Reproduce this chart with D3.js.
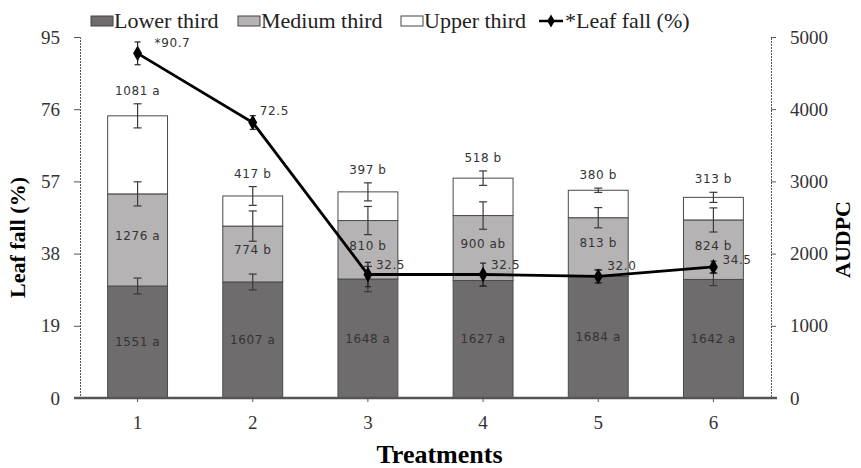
<!DOCTYPE html>
<html>
<head>
<meta charset="utf-8">
<script src="https://cdn.jsdelivr.net/npm/d3@7"></script>
<style>
  body { margin: 0; background: #fff; }
  #chart text { font-family: "Liberation Serif", "Times New Roman", serif; }
  .axis path, .axis line { stroke: #555; }
  .axis text { font-family: "Liberation Serif", "Times New Roman", serif; font-size: 19px; fill: #333; }
  #chart text.val { font-family: "DejaVu Sans", sans-serif; font-size: 12px; fill: #333; letter-spacing: 0.6px; }
</style>
</head>
<body>
<svg id="chart"></svg>
<script>
const treatments = ['1', '2', '3', '4', '5', '6'];

// AUDPC per leaf layer
const lowerThird = [1551, 1607, 1648, 1627, 1684, 1642];
const mediumThird = [1276, 774, 810, 900, 813, 824];
const upperThird = [1081, 417, 397, 518, 380, 313];
const lowerErr = [110, 110, 175, 80, 90, 85];
const mediumErr = [167, 210, 195, 190, 140, 167];
const upperErr = [167, 130, 125, 100, 30, 70];

const lowerLetters = ['a', 'a', 'a', 'a', 'a', 'a'];
const mediumLetters = ['a', 'b', 'b', 'ab', 'b', 'b'];
const upperLetters = ['a', 'b', 'b', 'b', 'b', 'b'];

// leaf fall (%)
const leafFall = [90.7, 72.5, 32.5, 32.5, 32.0, 34.5];
const leafFallErr = [3.0, 1.8, 3.2, 3.0, 1.7, 1.5];
const leafFallLabels = ['*90.7', '72.5', '32.5', '32.5', '32.0', '34.5'];

const leftTicks = [0, 19, 38, 57, 76, 95];
const rightTicks = [0, 1000, 2000, 3000, 4000, 5000];

const width = 861;
const height = 468;
const margin = { top: 37, right: 90, bottom: 70, left: 80 };

const svg = d3.select('#chart')
    .attr('width', width)
    .attr('height', height);

const x = d3.scaleBand()
    .domain(treatments)
    .range([margin.left, width - margin.right])
    .paddingInner(0.48)
    .paddingOuter(0.24);

const yLeft = d3.scaleLinear()
    .domain([0, 95])
    .range([height - margin.bottom, margin.top]);

const yRight = d3.scaleLinear()
    .domain([0, 5000])
    .range([height - margin.bottom, margin.top]);

const colors = { lower: '#6f6c6d', medium: '#b5b3b4', upper: '#ffffff' };

// build stack rows
const rows = treatments.map((t, i) => ({
    t,
    lower: lowerThird[i],
    medium: mediumThird[i],
    upper: upperThird[i]
}));
const stack = d3.stack().keys(['lower', 'medium', 'upper'])(rows);
const errs = { lower: lowerErr, medium: mediumErr, upper: upperErr };
const letters = { lower: lowerLetters, medium: mediumLetters, upper: upperLetters };

// bars
const layers = svg.append('g')
    .selectAll('g')
    .data(stack)
    .enter().append('g')
    .attr('fill', d => colors[d.key]);

layers.selectAll('rect')
    .data(d => d)
    .enter().append('rect')
    .attr('x', d => x(d.data.t))
    .attr('width', x.bandwidth())
    .attr('y', d => yRight(d[1]))
    .attr('height', d => yRight(d[0]) - yRight(d[1]))
    .attr('stroke', '#4a4a4a')
    .attr('stroke-width', 1);

// error bars on each segment top
const errG = svg.append('g')
    .attr('stroke', '#3a3a3a')
    .attr('stroke-width', 1.2);

stack.forEach(layer => {
    layer.forEach((d, i) => {
        const cx = x(d.data.t) + x.bandwidth() / 2;
        const e = errs[layer.key][i];
        const y1 = yRight(d[1] + e);
        const y2 = yRight(d[1] - e);
        errG.append('line').attr('x1', cx).attr('x2', cx).attr('y1', y1).attr('y2', y2);
        errG.append('line').attr('x1', cx - 4).attr('x2', cx + 4).attr('y1', y1).attr('y2', y1);
        errG.append('line').attr('x1', cx - 4).attr('x2', cx + 4).attr('y1', y2).attr('y2', y2);
    });
});

// segment labels
stack.forEach(layer => {
    layer.forEach((d, i) => {
        const cx = x(d.data.t) + x.bandwidth() / 2;
        let ty;
        if (layer.key === 'upper') {
            ty = yRight(d[1] + errs.upper[i]) - 9;
        } else if (layer.key === 'medium') {
            ty = (yRight(d[0]) + yRight(d[1])) / 2;
        } else {
            ty = (yRight(d[0]) + yRight(d[1])) / 2 + 4;
        }
        svg.append('text')
            .attr('class', 'val')
            .attr('x', cx)
            .attr('y', ty)
            .attr('text-anchor', 'middle')
            .text(`${d.data[layer.key]} ${letters[layer.key][i]}`);
    });
});

// axes
const axisLeft = svg.append('g')
    .attr('class', 'axis')
    .attr('transform', `translate(${margin.left},0)`)
    .call(d3.axisLeft(yLeft).tickValues(leftTicks).tickSize(6).tickSizeOuter(6).tickPadding(14));
axisLeft.select('.domain').attr('stroke-dasharray', '2,1');

const axisRight = svg.append('g')
    .attr('class', 'axis')
    .attr('transform', `translate(${width - margin.right},0)`)
    .call(d3.axisRight(yRight).tickValues(rightTicks).tickFormat(d3.format('d'))
        .tickSize(5).tickSizeOuter(5).tickPadding(14));
axisRight.select('.domain').attr('stroke-dasharray', '2,1');

const axisBottom = svg.append('g')
    .attr('class', 'axis')
    .attr('transform', `translate(0,${height - margin.bottom})`)
    .call(d3.axisBottom(x).tickSize(4).tickSizeOuter(0).tickPadding(14));
axisBottom.select('.domain')
    .attr('d', `M${margin.left - 6},0H${width - margin.right + 6}`)
    .attr('stroke', '#999')
    .attr('stroke-width', 2.5);

// leaf fall line
const line = d3.line()
    .x((d, i) => x(treatments[i]) + x.bandwidth() / 2)
    .y(d => yLeft(d));

svg.append('path')
    .datum(leafFall)
    .attr('fill', 'none')
    .attr('stroke', '#000')
    .attr('stroke-width', 2.8)
    .attr('d', line);

const lfErr = svg.append('g').attr('stroke', '#222').attr('stroke-width', 1.2);
leafFall.forEach((v, i) => {
    const cx = x(treatments[i]) + x.bandwidth() / 2;
    const y1 = yLeft(v + leafFallErr[i]);
    const y2 = yLeft(v - leafFallErr[i]);
    lfErr.append('line').attr('x1', cx).attr('x2', cx).attr('y1', y1).attr('y2', y2);
    lfErr.append('line').attr('x1', cx - 3).attr('x2', cx + 3).attr('y1', y1).attr('y2', y1);
    lfErr.append('line').attr('x1', cx - 3).attr('x2', cx + 3).attr('y1', y2).attr('y2', y2);
});

svg.append('g')
    .selectAll('path')
    .data(leafFall)
    .enter().append('path')
    .attr('d', d3.symbol().type(d3.symbolDiamond).size(70))
    .attr('transform', (d, i) => `translate(${x(treatments[i]) + x.bandwidth() / 2},${yLeft(d)})`)
    .attr('fill', '#000');

const lfOffsets = [[17, -6], [7, -8], [8, -6], [8, -6], [9, -6], [9, -3]];
svg.append('g')
    .selectAll('text')
    .data(leafFall)
    .enter().append('text')
    .attr('class', 'val')
    .attr('x', (d, i) => x(treatments[i]) + x.bandwidth() / 2 + lfOffsets[i][0])
    .attr('y', (d, i) => yLeft(d) + lfOffsets[i][1])
    .text((d, i) => leafFallLabels[i]);

// axis titles
svg.append('text')
    .attr('transform', `translate(25,${(margin.top + height - margin.bottom) / 2 + 20}) rotate(-90)`)
    .attr('text-anchor', 'middle')
    .attr('font-size', 22)
    .attr('font-weight', 'bold')
    .text('Leaf fall (%)');

svg.append('text')
    .attr('transform', `translate(850,${(margin.top + height - margin.bottom) / 2 + 22}) rotate(-90)`)
    .attr('text-anchor', 'middle')
    .attr('font-size', 22)
    .attr('font-weight', 'bold')
    .text('AUDPC');

svg.append('text')
    .attr('x', (margin.left + width - margin.right) / 2 + 14)
    .attr('y', 463)
    .attr('text-anchor', 'middle')
    .attr('font-size', 26)
    .attr('font-weight', 'bold')
    .text('Treatments');

// legend
const legendItems = [
    { label: 'Lower third', x: 91, fill: colors.lower },
    { label: 'Medium third', x: 238, fill: colors.medium },
    { label: 'Upper third', x: 401, fill: colors.upper }
];
const legend = svg.append('g');
legendItems.forEach(item => {
    legend.append('rect')
        .attr('x', item.x)
        .attr('y', 16)
        .attr('width', 22)
        .attr('height', 10)
        .attr('fill', item.fill)
        .attr('stroke', '#444');
    legend.append('text')
        .attr('x', item.x + 23)
        .attr('y', 28)
        .attr('font-size', 22)
        .attr('fill', '#222')
        .text(item.label);
});
legend.append('line')
    .attr('x1', 539).attr('x2', 563)
    .attr('y1', 21).attr('y2', 21)
    .attr('stroke', '#000').attr('stroke-width', 2.5);
legend.append('path')
    .attr('d', d3.symbol().type(d3.symbolDiamond).size(50))
    .attr('transform', 'translate(551,21)');
legend.append('text')
    .attr('x', 565)
    .attr('y', 28)
    .attr('font-size', 22)
    .attr('fill', '#222')
    .text('*Leaf fall (%)');
</script>
</body>
</html>
